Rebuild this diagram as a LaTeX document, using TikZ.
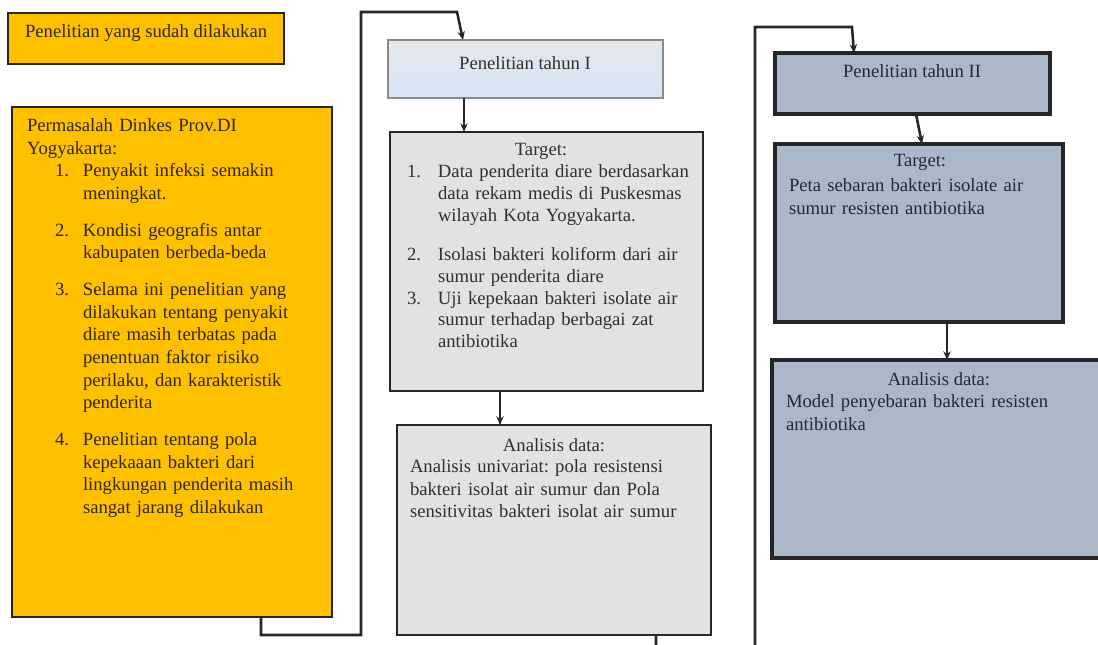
\documentclass[tikz,border=0pt]{standalone}
\usepackage{fontspec}
\setmainfont{Liberation Serif}
\usetikzlibrary{fit,arrows.meta}
\definecolor{orangeF}{HTML}{FFC000}
\definecolor{lineK}{HTML}{262626}
\definecolor{grayF}{HTML}{E2E2E2}
\definecolor{slateF}{HTML}{ABB8CA}
\definecolor{blueTop}{HTML}{E5E7EB}
\definecolor{blueBot}{HTML}{D5E5F6}
\definecolor{lineC}{HTML}{8A8A8A}
\definecolor{txtO}{HTML}{33280A}
\definecolor{txtG}{HTML}{303030}
\definecolor{txtB}{HTML}{222A38}
\frenchspacing
\begin{document}
\begin{tikzpicture}[x=0.75pt,y=-0.75pt,
  boxO/.style={draw=lineK, line width=2.2pt, fill=orangeF, inner sep=0pt, outer sep=0pt},
  boxC/.style={draw=lineC, line width=1.4pt, top color=blueTop, bottom color=blueBot, inner sep=0pt, outer sep=0pt},
  boxG/.style={draw=lineK, line width=2.2pt, fill=grayF, inner sep=0pt, outer sep=0pt},
  boxS/.style={draw=lineK, line width=2.6pt, fill=slateF, inner sep=0pt, outer sep=0pt},
  conn/.style={draw=lineK, line width=1.9pt},
  arr/.style={conn, -{Stealth[length=6.5pt,width=5.5pt]}},
  txt/.style={inner sep=0pt, outer sep=0pt, font=\fontsize{14pt}{17pt}\selectfont},
  para/.style={txt, anchor=north west, align=left},
]
\useasboundingbox (0,0) rectangle (1098,645);
\fill[white] (0,0) rectangle (1098,645);
\clip (0,0) rectangle (1098,645);

% boxes
\node[boxO, fit={(8,13)(284,64)}] (A) {};
\node[boxO, fit={(12,107)(332,617)}] (B) {};
\node[boxC, fit={(388,40)(663,98)}] (C) {};
\node[boxG, fit={(390,132)(703,391)}] (D) {};
\node[boxG, fit={(397,425)(711,635)}] (E) {};
\node[boxS, fit={(775,53)(1050,114)}] (F) {};
\node[boxS, fit={(775,144)(1063,322)}] (G) {};
\node[boxS, fit={(772,360)(1106,558)}] (H) {};

% helper coordinates
\coordinate (x261) at (261,0);
\coordinate (j1) at (361,635);
\coordinate (j2) at (457,12);
\coordinate (x463) at (463,0);
\coordinate (x464) at (464,0);
\coordinate (x500) at (500,0);
\coordinate (x656) at (656,0);
\coordinate (j3) at (755,665);
\coordinate (j4) at (852,27);
\coordinate (x854) at (854,0);
\coordinate (x916) at (916,0);
\coordinate (x922) at (922,0);
\coordinate (x947) at (947,0);

% connectors
\draw[arr] (B.south -| x261) |- (j1) |- (j2) -- (C.north -| x463);
\draw[arr] (C.south -| x464) -- (D.north -| x464);
\draw[arr] (D.south -| x500) -- (E.north -| x500);
\draw[arr] (E.south -| x656) |- (j3) |- (j4) -- (F.north -| x854);
\draw[arr] (F.south -| x916) -- (G.north -| x922);
\draw[arr] (G.south -| x947) -- (H.north -| x947);

% texts
\node[txt, text=txtO, anchor=base west] (At) at (25,38) {Penelitian yang sudah dilakukan};

\node[para, text=txtO, text width=222pt] (Bt) at (27,118.5) {%
Permasalah Dinkes Prov.DI\\Yogyakarta:\par
\leftskip=42pt
\noindent\llap{\makebox[21pt][l]{1.}}Penyakit infeksi semakin\\meningkat.\par\vspace{10.5pt}
\noindent\llap{\makebox[21pt][l]{2.}}Kondisi geografis antar\\kabupaten berbeda-beda\par\vspace{10.5pt}
\noindent\llap{\makebox[21pt][l]{3.}}Selama ini penelitian yang\\dilakukan tentang penyakit\\diare masih terbatas pada\\penentuan faktor risiko\\perilaku, dan karakteristik\\penderita\par\vspace{10.5pt}
\noindent\llap{\makebox[21pt][l]{4.}}Penelitian tentang pola\\kepekaaan bakteri dari\\lingkungan penderita masih\\sangat jarang dilakukan\par};

\node[txt, text=txtG, anchor=base] (Ct) at (525,70) {Penelitian tahun I};

\node[txt, text=txtG, anchor=base] (Dh) at (541,156) {Target:};
\node[para, text=txtG, text width=222pt, font=\fontsize{14pt}{16.4pt}\selectfont] (Dt) at (407,164.5) {%
\leftskip=23.25pt
\noindent\llap{\makebox[23.25pt][l]{1.}}Data penderita diare berdasarkan\\data rekam medis di Puskesmas\\wilayah Kota Yogyakarta.\par\vspace{13pt}
\noindent\llap{\makebox[23.25pt][l]{2.}}Isolasi bakteri koliform dari air\\sumur penderita diare\par
\noindent\llap{\makebox[23.25pt][l]{3.}}Uji kepekaan bakteri isolate air\\sumur terhadap berbagai zat\\antibiotika\par};

\node[txt, text=txtG, anchor=base] (Eh) at (554,451) {Analisis data:};
\node[para, text=txtG, text width=222pt] (Et) at (410,459.5) {Analisis univariat: pola resistensi\\bakteri isolat air sumur dan Pola\\sensitivitas bakteri isolat air sumur};

\node[txt, text=txtB, anchor=base] (Ft) at (912,78) {Penelitian tahun II};

\node[txt, text=txtB, anchor=base] (Gh) at (920,167) {Target:};
\node[para, text=txtB, text width=205pt] (Gt) at (789,178.5) {Peta sebaran bakteri isolate air\\sumur resisten antibiotika};

\node[txt, text=txtB, anchor=base] (Hh) at (939,385) {Analisis data:};
\node[para, text=txtB, text width=225pt] (Ht) at (786,394.5) {Model penyebaran bakteri resisten\\antibiotika};
\end{tikzpicture}
\end{document}
